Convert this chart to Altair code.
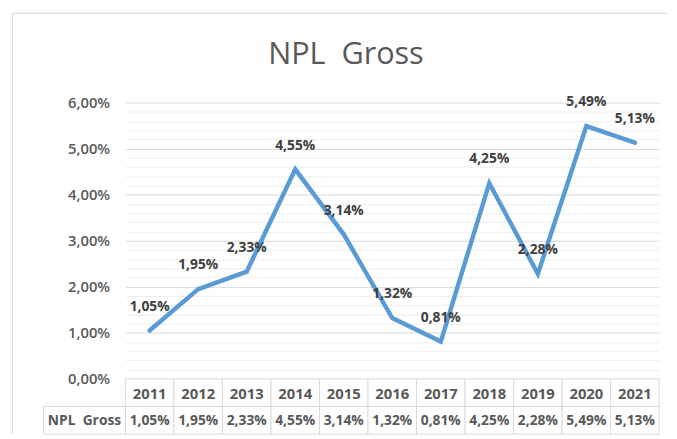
import altair as alt
import pandas as pd

# ---- data ----
years = ["2011", "2012", "2013", "2014", "2015", "2016", "2017", "2018", "2019", "2020", "2021"]
npl_gross = [1.05, 1.95, 2.33, 4.55, 3.14, 1.32, 0.81, 4.25, 2.28, 5.49, 5.13]
series_name = "NPL\u00a0 Gross"
chart_title = "NPL\u00a0 Gross"
y_domain = [0, 6]
minor_ticks = [round(i * 0.2, 1) for i in range(31)]

FONT = "Open Sans"
W, H_PLOT, H_ROW = 541, 280, 28
H = H_PLOT + 2 * H_ROW


def pct(v):
    return f"{v:.2f}".replace(".", ",") + "%"


df = pd.DataFrame({"year": years, "value": npl_gross, "label": [pct(v) for v in npl_gross]})

table = pd.DataFrame(
    {"year": years + years,
     "row": ["header"] * len(years) + ["value"] * len(years),
     "text": years + [pct(v) for v in npl_gross],
     "size": [15] * len(years) + [14] * len(years)}
)

x_enc = alt.X("year:O", sort=years, title=None, axis=None,
              scale=alt.Scale(type="band", paddingInner=0, paddingOuter=0))

is_major = "abs(datum.value - round(datum.value)) < 0.001"

y_main = alt.Y(
    "value:Q", title=None,
    scale=alt.Scale(domain=y_domain, range=[H_PLOT, 0], nice=False, zero=True),
    axis=alt.Axis(
        values=minor_ticks, grid=True,
        gridColor={"condition": {"test": is_major, "value": "#D9D9D9"}, "value": "#EEEEEE"},
        gridWidth=1, domain=False, ticks=False, labelPadding=16,
        labelExpr=f"{is_major} ? replace(format(datum.value, '.2f'), '.', ',') + '%' : ''",
        labelFont=FONT, labelFontSize=15, labelColor="#595959", labelFontWeight=600,
    ),
)

line = alt.Chart(df).mark_line(color="#5B9BD5", strokeWidth=4.5, strokeCap="round", strokeJoin="miter").encode(
    x=x_enc, y=y_main
)
labels = alt.Chart(df).mark_text(font=FONT, fontSize=14, fontWeight="bold", color="#404040", dy=-24).encode(
    x=x_enc, y=y_main, text="label:N"
)
main = alt.layer(line, labels)

y_tab = alt.Y("row:N", title=None, axis=None,
              scale=alt.Scale(domain=["header", "value"], range=[H_PLOT, H], paddingInner=0, paddingOuter=0))

cells = alt.Chart(table).mark_rect(fill="white", stroke="#D9D9D9", strokeWidth=1).encode(x=x_enc, y=y_tab)
cell_text = alt.Chart(table).mark_text(font=FONT, fontWeight="bold", color="#595959", dy=1).encode(
    x=x_enc, y=y_tab, text="text:N", size=alt.Size("size:Q", scale=None, legend=None)
)
name_df = pd.DataFrame({"row": ["value"], "text": [series_name]})
name_cell = alt.Chart(name_df).mark_rect(fill="white", stroke="#D9D9D9", strokeWidth=1).encode(
    x=alt.value(-83), x2=alt.value(0), y=y_tab
)
name_text = alt.Chart(name_df).mark_text(font=FONT, fontSize=14, fontWeight="bold", color="#595959", dy=1).encode(
    x=alt.value(-41.5), y=y_tab, text="text:N"
)
tab = alt.layer(cells, cell_text, name_cell, name_text)

one = pd.DataFrame({"k": [0]})
left_border = alt.Chart(one).mark_rule(color="#D9D9D9", strokeWidth=1).encode(
    x=alt.value(-114.5), y=alt.value(-90.5), y2=alt.value(H)
)
top_border = alt.Chart(one).mark_rule(color="#D9D9D9", strokeWidth=1).encode(
    x=alt.value(-115), x2=alt.value(550), y=alt.value(-90.5)
)
border = alt.layer(left_border, top_border)

chart = (
    alt.layer(border, main, tab)
    .resolve_scale(y="independent")
    .properties(
        width=W, height=H,
        title=alt.TitleParams(chart_title, font=FONT, fontSize=31, fontWeight="normal", color="#595959",
                              anchor="middle", frame="bounds", offset=-59, dx=6),
        padding={"left": 3, "top": 2, "right": 0, "bottom": 0},
        background="white",
    )
    .configure_view(stroke=None)
)

chart.save("out.html", embed_options={"renderer": "svg", "actions": False})
